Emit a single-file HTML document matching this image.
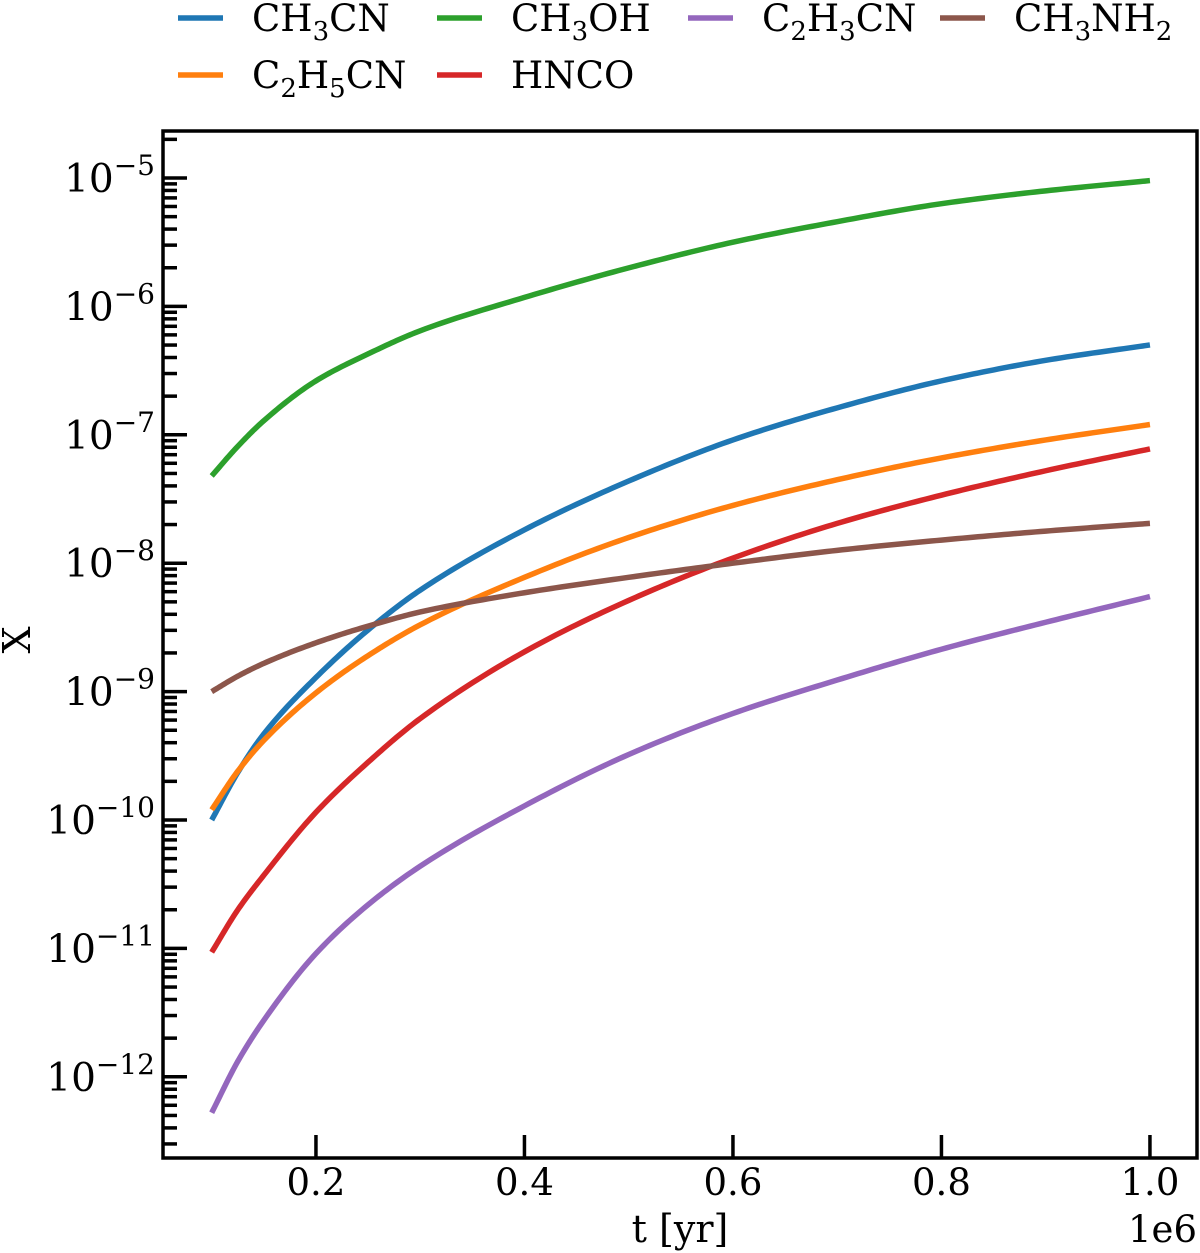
<!DOCTYPE html>
<html><head><meta charset="utf-8"><style>
body{margin:0;background:#fff;}
svg{display:block;}
text{font-family:"DejaVu Serif","Liberation Serif",serif;fill:#000;}
</style></head><body>
<svg id="chart" width="1200" height="1253" viewBox="0 0 1200 1253">
<g id="legend"></g>
<g id="series"></g>
<g id="axes"></g>
</svg>
<script>
const times = [0.1,0.125,0.15,0.2,0.25,0.3,0.4,0.5,0.6,0.7,0.8,0.9,1.0];
const logCH3CN  = [-10.0,-9.63,-9.33,-8.89,-8.52,-8.21,-7.74,-7.36,-7.04,-6.79,-6.58,-6.42,-6.30];
const logC2H5CN = [-9.92,-9.62,-9.38,-9.01,-8.72,-8.48,-8.11,-7.80,-7.55,-7.35,-7.18,-7.04,-6.92];
const logCH3OH  = [-7.32,-7.09,-6.89,-6.58,-6.37,-6.19,-5.93,-5.70,-5.50,-5.34,-5.20,-5.10,-5.02];
const logHNCO   = [-11.03,-10.70,-10.43,-9.94,-9.55,-9.21,-8.69,-8.29,-7.96,-7.69,-7.47,-7.28,-7.11];
const logC2H3CN = [-12.28,-11.88,-11.56,-11.04,-10.66,-10.36,-9.89,-9.49,-9.17,-8.91,-8.67,-8.46,-8.26];
const logCH3NH2 = [-9.00,-8.88,-8.78,-8.62,-8.49,-8.38,-8.23,-8.11,-8.00,-7.90,-7.82,-7.75,-7.69];
const xTicks = [0.2,0.4,0.6,0.8,1.0];
const xTickLabels = ["0.2","0.4","0.6","0.8","1.0"];
const yDecades = [-12,-11,-10,-9,-8,-7,-6,-5];

const NS="http://www.w3.org/2000/svg";
const L=163,R=1197,T=131,B=1158;
function sx(t){return 211.7+(t-0.1)*1042.5;}
function sy(lg){return 178-(lg+5)*128.4;}
function mk(tag,attrs,parent){const e=document.createElementNS(NS,tag);for(const k in attrs)e.setAttribute(k,attrs[k]);parent.appendChild(e);return e;}
function monoPath(xs,ys){
  const n=xs.length,h=[],dl=[],m=[];
  for(let i=0;i<n-1;i++){h.push(xs[i+1]-xs[i]);dl.push((ys[i+1]-ys[i])/h[i]);}
  m[0]=dl[0];m[n-1]=dl[n-2];
  for(let i=1;i<n-1;i++){
    if(dl[i-1]*dl[i]<=0)m[i]=0;
    else{const w1=2*h[i]+h[i-1],w2=h[i]+2*h[i-1];m[i]=(w1+w2)/(w1/dl[i-1]+w2/dl[i]);}
  }
  let d="";
  for(let i=0;i<n-1;i++){
    for(let k=0;k<=20;k++){
      if(i>0&&k===0)continue;
      const s=k/20,hh=h[i];
      const h00=2*s*s*s-3*s*s+1,h10=s*s*s-2*s*s+s,h01=-2*s*s*s+3*s*s,h11=s*s*s-s*s;
      const x=xs[i]+s*hh;
      const y=h00*ys[i]+h10*hh*m[i]+h01*ys[i+1]+h11*hh*m[i+1];
      d+=(d?" L":"M")+sx(x).toFixed(2)+","+sy(y).toFixed(2);
    }
  }
  return d;
}
const series=[
 {name:"CH3CN",vals:logCH3CN,color:"#1f77b4"},
 {name:"C2H5CN",vals:logC2H5CN,color:"#ff7f0e"},
 {name:"CH3OH",vals:logCH3OH,color:"#2ca02c"},
 {name:"HNCO",vals:logHNCO,color:"#d62728"},
 {name:"C2H3CN",vals:logC2H3CN,color:"#9467bd"},
 {name:"CH3NH2",vals:logCH3NH2,color:"#8c564b"}];
const sg=document.getElementById('series');
series.forEach(s=>{
  const path=mk('path',{d:monoPath(times,s.vals),fill:'none',stroke:s.color,'stroke-width':5.5,'stroke-linejoin':'round'},sg);
  
  
});
const ag=document.getElementById('axes');
const frame=mk('rect',{x:L,y:T,width:R-L,height:B-T,fill:'none',stroke:'#000','stroke-width':3.5},ag);


xTicks.forEach((t,i)=>{
  const x=sx(t);
  const tk=mk('line',{x1:x,x2:x,y1:B,y2:B-23,stroke:'#000','stroke-width':3.5},ag);
  
  
  const tx=mk('text',{x:x,y:1195,'text-anchor':'middle','font-size':37},ag);
  tx.textContent=xTickLabels[i];
  
  
});
for(let d=-13;d<=-5;d++){
  for(let m=1;m<=9;m++){
    const lg=d+Math.log10(m);
    const y=sy(lg);
    if(y<T+2||y>B-2)continue;
    const major=(m===1);
    const tk=mk('line',{x1:L,x2:L+(major?24:14),y1:y,y2:y,stroke:'#000','stroke-width':3.5},ag);
    
    
  }
}
yDecades.forEach(d=>{
  const y=sy(d);
  const tx=mk('text',{x:155,y:y+14,'text-anchor':'end','font-size':39},ag);
  
  
  const a=document.createElementNS(NS,'tspan');a.textContent="10";tx.appendChild(a);
  const b=document.createElementNS(NS,'tspan');b.setAttribute('dy','-17');b.setAttribute('font-size','28');b.textContent="\u2212"+(-d);tx.appendChild(b);
});
const xl=mk('text',{x:680,y:1242,'text-anchor':'middle','font-size':38},ag);
xl.textContent="t [yr]";


const off=mk('text',{x:1197,y:1242,'text-anchor':'end','font-size':37},ag);
off.textContent="1e6";


const yl=mk('text',{x:30,y:640,'text-anchor':'middle','font-size':38,transform:'rotate(-90 30 640)'},ag);
yl.textContent="X";


const lg=document.getElementById('legend');
const legendItems=[
 {c:"#1f77b4",x:178,y:18,parts:[["CH",0],["3",1],["CN",0]]},
 {c:"#2ca02c",x:437,y:18,parts:[["CH",0],["3",1],["OH",0]]},
 {c:"#9467bd",x:688,y:18,parts:[["C",0],["2",1],["H",0],["3",1],["CN",0]]},
 {c:"#8c564b",x:940,y:18,parts:[["CH",0],["3",1],["NH",0],["2",1]]},
 {c:"#ff7f0e",x:178,y:75,parts:[["C",0],["2",1],["H",0],["5",1],["CN",0]]},
 {c:"#d62728",x:437,y:75,parts:[["HNCO",0]]}];
legendItems.forEach(it=>{
  const g=mk('g',{},lg);
  
  
  mk('line',{x1:it.x,x2:it.x+45,y1:it.y,y2:it.y,stroke:it.c,'stroke-width':5.5},g);
  const tx=mk('text',{x:it.x+74,y:it.y+13,'font-size':37},g);
  it.parts.forEach(p=>{
    const ts=document.createElementNS(NS,'tspan');
    ts.textContent=p[0];
    if(p[1]){ts.setAttribute('font-size','26');ts.setAttribute('dy','9');}
    else if(tx.childNodes.length&&tx.lastChild.getAttribute('dy')==='9'){ts.setAttribute('dy','-9');}
    tx.appendChild(ts);
  });
});
</script>
</body></html>
